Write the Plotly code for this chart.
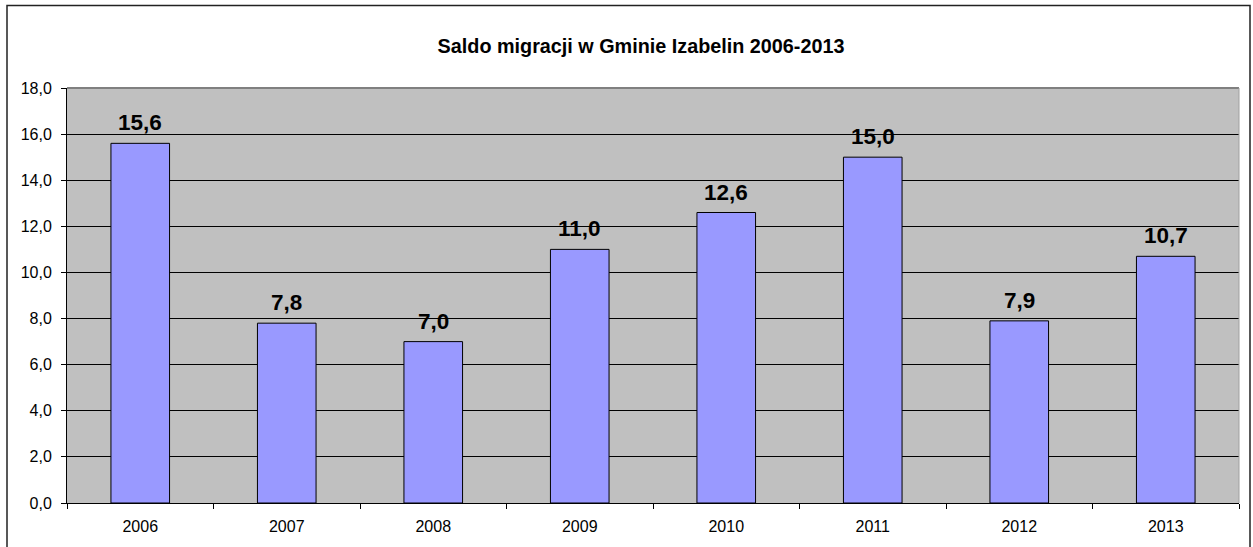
import plotly.graph_objects as go

years = ["2006", "2007", "2008", "2009", "2010", "2011", "2012", "2013"]
values = [15.6, 7.8, 7.0, 11.0, 12.6, 15.0, 7.9, 10.7]
y_ticks = [0, 2, 4, 6, 8, 10, 12, 14, 16, 18]
title_text = "Saldo migracji w Gminie Izabelin 2006-2013"

FONT = "Liberation Sans, Arial, sans-serif"
W, H = 1253, 547
L, R, T, B = 67, 14, 88, 44
pw, ph = W - L - R, H - T - B


def px_x(p):
    return (p - L) / pw


def px_y(p):
    return (H - B - p) / ph


fig = go.Figure()
fig.add_trace(go.Bar(
    x=years, y=values, width=0.4,
    marker=dict(color="#9999FF", line=dict(color="#000000", width=1)),
    hoverinfo="skip",
))

for i, v in enumerate(values):
    fig.add_annotation(
        x=i, y=v, xref="x", yref="y", yanchor="bottom", showarrow=False,
        text="<b>" + f"{v:.1f}".replace(".", ",") + "</b>",
        font=dict(family=FONT, size=22.5, color="#000000"), yshift=6,
    )

fig.update_layout(
    width=W, height=H,
    margin=dict(l=L, r=R, t=T, b=B),
    paper_bgcolor="#FFFFFF", plot_bgcolor="#C0C0C0",
    separators=", ",
    showlegend=False,
    title=dict(text="<b>" + title_text + "</b>", x=641 / W, xanchor="center",
               y=1 - 46 / H, yanchor="middle",
               font=dict(family=FONT, size=19.8, color="#000000")),
    xaxis=dict(type="category", range=[-0.5, 7.5], showgrid=False, showline=True,
               linecolor="#000000", linewidth=1, ticks="outside", tickson="boundaries",
               ticklen=5, tickcolor="#000000",
               tickfont=dict(family=FONT, size=16, color="#000000"),
               ticklabelstandoff=9, zeroline=False),
    yaxis=dict(range=[0, 18], tickvals=y_ticks, tickformat=".1f", showgrid=True,
               gridcolor="#000000", gridwidth=1, showline=True, linecolor="#000000",
               linewidth=1, ticks="outside", ticklen=5, tickcolor="#000000",
               tickfont=dict(family=FONT, size=16, color="#000000"),
               ticklabelstandoff=6, zeroline=False),
    shapes=[
        dict(type="line", xref="paper", yref="paper", x0=0, x1=1, y0=1, y1=1,
             line=dict(color="#808080", width=2)),
        dict(type="line", xref="paper", yref="paper", x0=1, x1=1, y0=0, y1=1,
             line=dict(color="#A0A0A0", width=1)),
        dict(type="rect", xref="paper", yref="paper", x0=px_x(7), x1=px_x(1250),
             y0=px_y(560), y1=px_y(5.5), line=dict(color="#222222", width=1.5),
             layer="above"),
    ],
)

fig.write_html("out.html", config={"displayModeBar": False},
               post_script="document.body.style.margin='0';")
